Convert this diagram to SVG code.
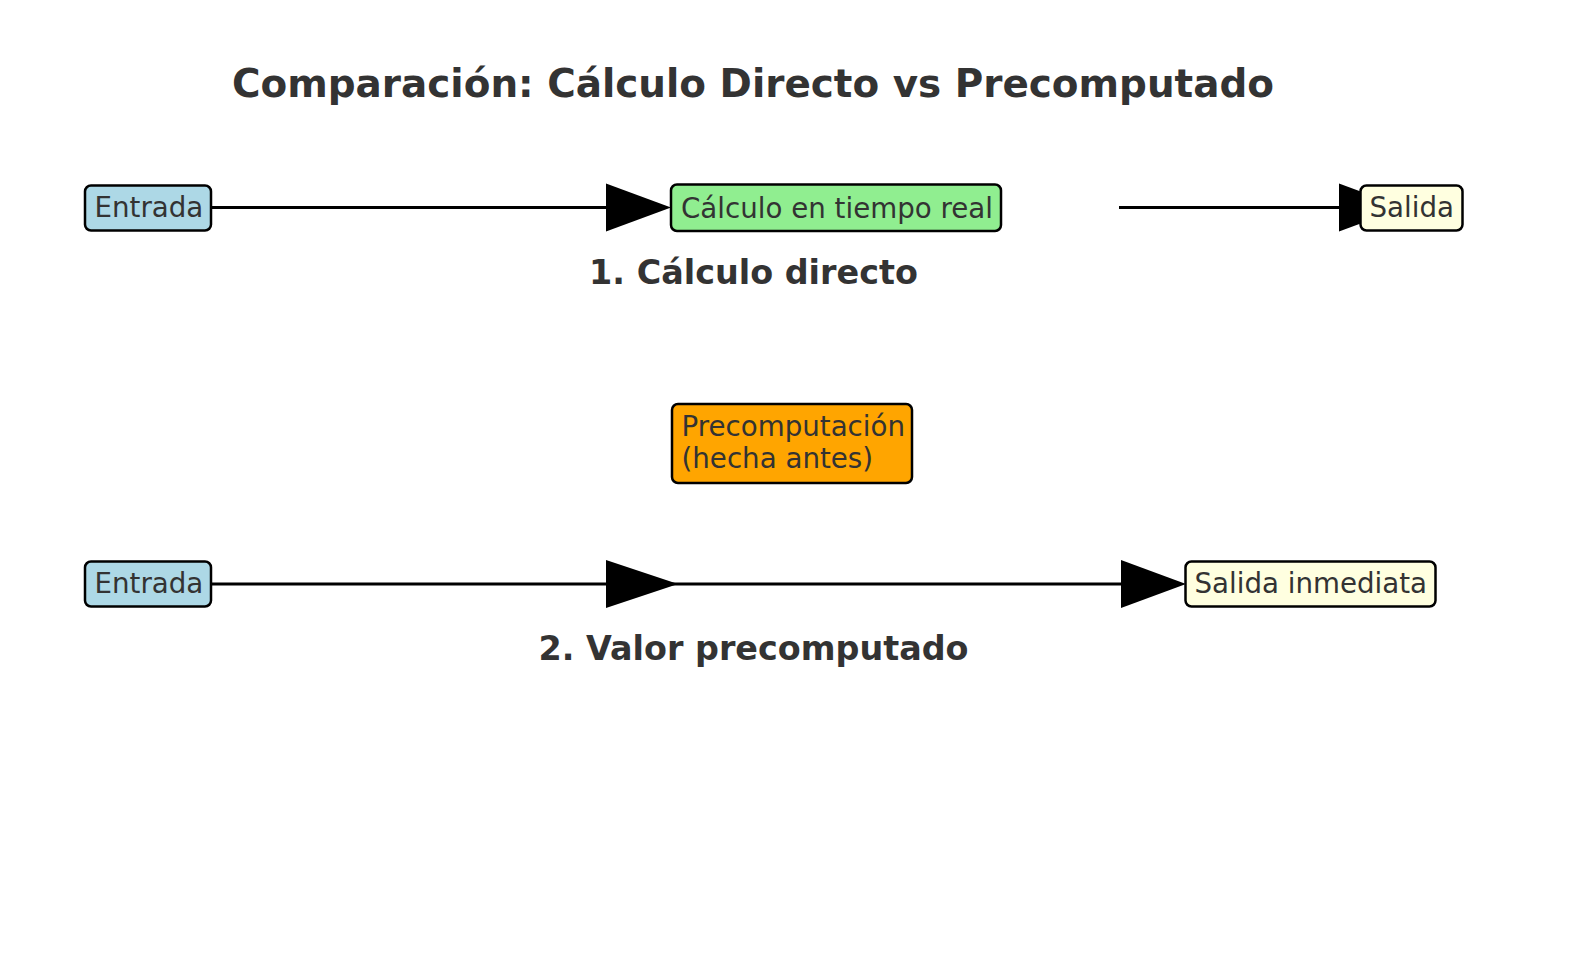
<svg xmlns="http://www.w3.org/2000/svg" width="1580" height="980" viewBox="0 0 1580 980">
<style>
.node{stroke:#000;stroke-width:2.5}
.t{font-family:"DejaVu Sans",sans-serif;font-size:27.7px;fill:#333333}
.b{font-family:"DejaVu Sans",sans-serif;font-weight:bold;fill:#333333;text-anchor:middle}
.ln{stroke:#000;stroke-width:3;fill:none}
.ah{fill:#000;stroke:none}
</style>
<rect width="1580" height="980" fill="#ffffff"/>
<text class="b" x="753" y="96.5" font-size="38.9">Comparación: Cálculo Directo vs Precomputado</text>
<g id="connectors">
  <line class="ln" x1="211" y1="207.5" x2="610" y2="207.5"/>
  <polygon class="ah" points="606,183.5 671,207.5 606,231.5"/>
  <line class="ln" x1="1119" y1="207.5" x2="1345" y2="207.5"/>
  <polygon class="ah" points="1339,183.5 1404,207.5 1339,231.5"/>
  <line class="ln" x1="211" y1="584" x2="1125" y2="584"/>
  <polygon class="ah" points="606,560 678,584 606,608"/>
  <polygon class="ah" points="1121,560 1186,584 1121,608"/>
</g>
<g id="entrada1">
  <rect class="node" x="85" y="185.5" width="126" height="45" rx="6" fill="#add8e6"/>
  <text class="t" x="94.5" y="217">Entrada</text>
</g>
<g id="calculo">
  <rect class="node" x="671" y="184.5" width="330" height="46.5" rx="6" fill="#90ee90"/>
  <text class="t" x="681" y="217.5">Cálculo en tiempo real</text>
</g>
<g id="salida1">
  <rect class="node" x="1360.5" y="185.5" width="102" height="45" rx="6" fill="#ffffe0"/>
  <text class="t" x="1369.5" y="217">Salida</text>
</g>
<text class="b" x="753.5" y="284" font-size="33.4">1. Cálculo directo</text>
<g id="precomputacion">
  <rect class="node" x="672" y="404" width="240" height="79" rx="6" fill="#ffa500"/>
  <text class="t" x="681.5" y="435.5">Precomputación</text>
  <text class="t" x="681.5" y="467.5">(hecha antes)</text>
</g>
<g id="entrada2">
  <rect class="node" x="85" y="561.5" width="126" height="45" rx="6" fill="#add8e6"/>
  <text class="t" x="94.5" y="593">Entrada</text>
</g>
<g id="salida2">
  <rect class="node" x="1185.5" y="561.5" width="250" height="45" rx="6" fill="#ffffe0"/>
  <text class="t" x="1194.5" y="593">Salida inmediata</text>
</g>
<text class="b" x="753.5" y="660" font-size="33.4">2. Valor precomputado</text>
</svg>
